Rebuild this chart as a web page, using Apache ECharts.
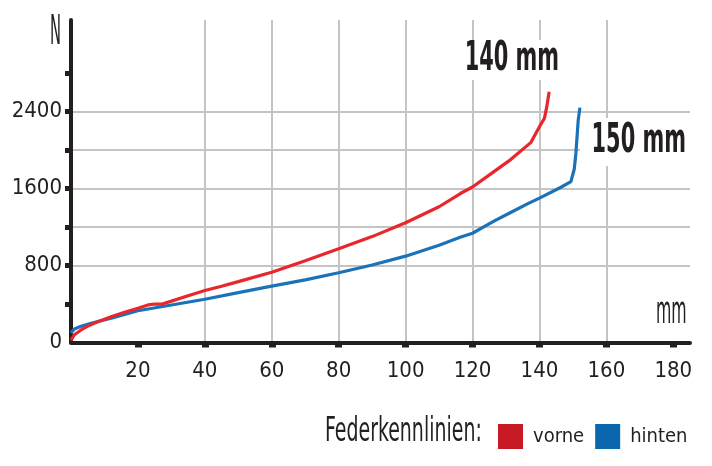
<!DOCTYPE html>
<html>
<head>
<meta charset="utf-8">
<script src="https://cdn.jsdelivr.net/npm/echarts@6/dist/echarts.min.js"></script>
<style>
html,body{margin:0;padding:0;background:#fff;}
#c{width:712px;height:466px;}
</style>
</head>
<body>
<div id="c"></div>
<script>
// Federkennlinien – Federweg (mm) gegen Kraft (N)
const vorneX = [0, 1, 3, 5, 8, 12, 16, 20, 23, 25, 27, 30, 35, 40, 45, 50, 60, 70, 80, 90, 100, 110, 116.5, 120, 126.4, 131.4, 137.4, 140, 141.5, 142.2, 142.9];
const vorneN = [25, 80, 130, 170, 215, 268, 315, 355, 390, 400, 398, 430, 485, 540, 585, 632, 730, 850, 973, 1100, 1244, 1410, 1550, 1615, 1775, 1900, 2076, 2242, 2330, 2450, 2605];
const hintenX = [0, 1, 3, 6, 12, 20, 30, 40, 50, 60, 70, 80, 90, 100, 110, 116.5, 120, 126.4, 131.4, 136.4, 140, 146.3, 149.4, 150.4, 150.9, 151.6, 152.1];
const hintenN = [100, 140, 168, 200, 252, 330, 390, 449, 518, 585, 650, 724, 805, 897, 1010, 1095, 1135, 1260, 1350, 1440, 1500, 1610, 1671, 1800, 1966, 2312, 2440];
const xTicks = [20, 40, 60, 80, 100, 120, 140, 160, 180];
const yTicks = [400, 800, 1200, 1600, 2000, 2400, 2800];
const yLabels = [0, 800, 1600, 2400];
const seriesNames = ['vorne', 'hinten'];
const travelLabels = ['140 mm', '150 mm'];
const legendTitle = 'Federkennlinien:';
const xUnit = 'mm';
const yUnit = 'N';

const FONT = '"DejaVu Sans Condensed","Liberation Sans Narrow","Roboto Condensed","Open Sans",sans-serif';
const INK = '#231f20';
const GRID = '#c4c4c4';

const pairs = (xs, ys) => xs.map((x, i) => [x, ys[i]]);

const chart = echarts.init(document.getElementById('c'), null, {renderer: 'canvas'});
chart.setOption({
  animation: false,
  backgroundColor: '#fff',
  grid: {left: 71, right: 22, top: 20, bottom: 123.5, containLabel: false},
  xAxis: {
    type: 'value', min: 0, max: 185, interval: 20,
    axisLine: {show: true, lineStyle: {color: INK, width: 4}},
    axisTick: {show: true, customValues: xTicks, length: 5, lineStyle: {color: INK, width: 7}},
    axisLabel: {
      customValues: xTicks, margin: 18,
      fontFamily: FONT, fontSize: 22, color: INK,
      formatter: v => (v > 0 && v <= 180) ? String(v) : ''
    },
    splitLine: {show: true, showMinLine: false, showMaxLine: false, lineStyle: {color: GRID, width: 2}}
  },
  yAxis: {
    type: 'value', min: 0, max: 3350, interval: 400,
    axisLine: {show: true, lineStyle: {color: INK, width: 4}},
    axisTick: {show: true, customValues: yTicks, length: 6, lineStyle: {color: INK, width: 5}},
    axisLabel: {
      customValues: yLabels, margin: 9,
      fontFamily: FONT, fontSize: 22, color: INK,
      formatter: v => (v % 800 === 0 && v <= 2400) ? String(v) : ''
    },
    splitLine: {show: true, showMinLine: false, showMaxLine: false,
      lineStyle: {color: [GRID, GRID, GRID, GRID, GRID, GRID, GRID, GRID, 'rgba(0,0,0,0)', 'rgba(0,0,0,0)'], width: 2}}
  },
  legend: {
    orient: 'horizontal', left: 493, top: 419,
    icon: 'rect', itemWidth: 25, itemHeight: 25, itemGap: 11,
    data: seriesNames,
    textStyle: {fontFamily: FONT, fontSize: 20, color: INK, padding: [0, 0, 0, 5]}
  },
  graphic: [
    {type: 'text', x: 325, y: 432, scaleX: 0.62,
      style: {text: legendTitle, font: '34px ' + FONT, fill: INK, verticalAlign: 'middle'}},
    {type: 'text', x: 50, y: 33, scaleX: 0.4,
      style: {text: yUnit, font: '41px ' + FONT, fill: INK, verticalAlign: 'middle'}},
    {type: 'text', x: 656, y: 313, scaleX: 0.46,
      style: {text: xUnit, font: '38px ' + FONT, fill: INK, verticalAlign: 'middle'}},
    {type: 'text', x: 452, y: 60, scaleX: 0.58, z: 10,
      style: {text: travelLabels[0], font: 'bold 40px ' + FONT, fill: INK, verticalAlign: 'middle',
        backgroundColor: '#fff', padding: [0, 22, 0, 22]}},
    {type: 'text', x: 580, y: 142, scaleX: 0.58, z: 10,
      style: {text: travelLabels[1], font: 'bold 40px ' + FONT, fill: INK, verticalAlign: 'middle',
        backgroundColor: '#fff', padding: [5, 10, 3, 20]}}
  ],
  series: [
    {name: seriesNames[0], type: 'line', data: pairs(vorneX, vorneN), showSymbol: false, smooth: false,
      itemStyle: {color: '#c81a24'}, lineStyle: {color: '#e8262b', width: 3.2}, z: 3},
    {name: seriesNames[1], type: 'line', data: pairs(hintenX, hintenN), showSymbol: false, smooth: false,
      itemStyle: {color: '#0a67ad'}, lineStyle: {color: '#1a72b8', width: 3.2}, z: 2}
  ]
});
</script>
</body>
</html>
